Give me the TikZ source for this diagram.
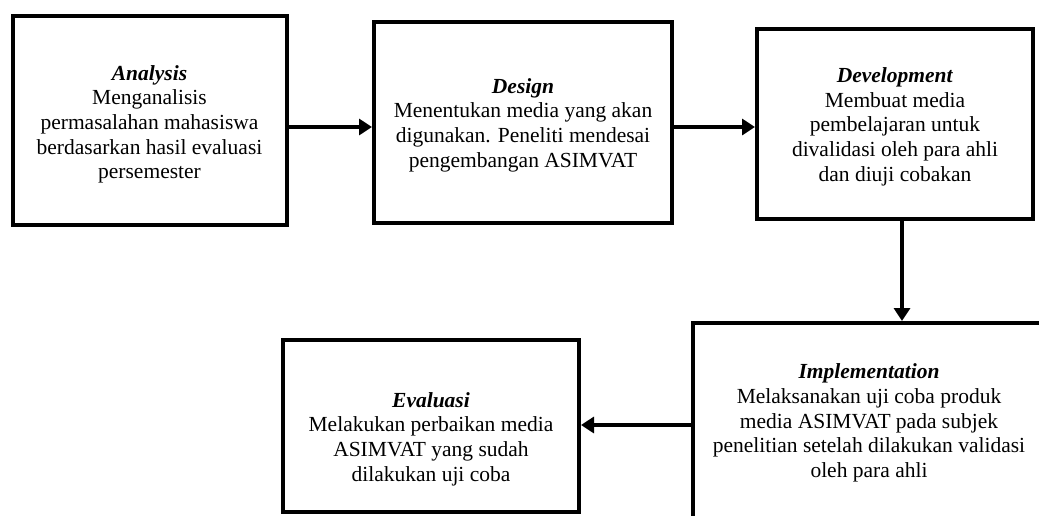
\documentclass[tikz,border=0pt]{standalone}
\usepackage{fontspec}
\setmainfont{Liberation Serif}
\usetikzlibrary{arrows.meta}
\tikzset{
  stagebox/.style={draw, line width=4pt, inner sep=0pt},
  stagetext/.style={align=center, inner sep=0pt, font=\fontsize{21.5}{24.7}\selectfont},
  flow/.style={-{Triangle[length=13pt,width=16pt]}, line width=4.5pt}
}
% #1 name, #2 centre, #3 width, #4 height, #5 text shift, #6 text
\newcommand{\drawstage}[6]
{
  \node[stagebox, minimum width=#3pt, minimum height=#4pt] (#1) at #2 {};
  \node[stagetext] (#1txt) at ([yshift=#5pt]#1.center) {#6};
}

\begin{document}
\begin{tikzpicture}[x=1pt,y=-1pt]
    \useasboundingbox (0,0) rectangle (1039,515);

    % top row
    \drawstage{ana}{(149.5,120.25)}{274}{209.5}{-4}
      {\textbf{\textit{Analysis}}\\Menganalisis\\permasalahan mahasiswa\\berdasarkan hasil evaluasi\\persemester}
    \drawstage{des}{(523,122.5)}{298}{201}{-2.5}
      {\textbf{\textit{Design}}\\Menentukan media yang akan\\digunakan. Peneliti mendesai\\pengembangan ASIMVAT}
    \drawstage{dev}{(895,123.75)}{276}{189.5}{-3}
      {\textbf{\textit{Development}}\\Membuat media\\pembelajaran untuk\\divalidasi oleh para ahli\\dan diuji cobakan}

    % bottom row
    \drawstage{imp}{(869,423)}{352}{200}{0}
      {\textbf{\textit{Implementation}}\\Melaksanakan uji coba produk\\media ASIMVAT pada subjek\\penelitian setelah dilakukan validasi\\oleh para ahli}
    \drawstage{eva}{(431,426)}{296}{172}{-13}
      {\textbf{\textit{Evaluasi}}\\Melakukan perbaikan media\\ASIMVAT yang sudah\\dilakukan uji coba}

    % arrows
    \draw[flow] ([yshift=-6.75pt]ana.east) -- ([yshift=-6.75pt]ana.east -| des.west);
    \draw[flow] ([yshift=-4.5pt]des.east) -- ([yshift=-4.5pt]des.east -| dev.west);
    \draw[flow] ([xshift=7pt]dev.south) -- ([xshift=7pt]dev.south |- imp.north);
    \draw[flow] ([yshift=-2pt]imp.west) -- ([yshift=-2pt]imp.west -| eva.east);
\end{tikzpicture}
\end{document}
